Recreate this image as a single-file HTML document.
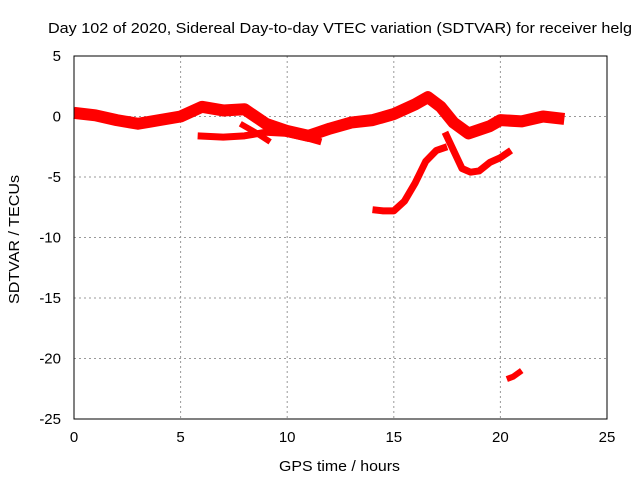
<!DOCTYPE html>
<html><head><meta charset="utf-8"><style>
body{margin:0;background:#fff}
text{font-family:"Liberation Sans",sans-serif;font-size:15px;fill:#000}
</style></head><body>
<svg id="chart" width="640" height="480" xmlns="http://www.w3.org/2000/svg">
<text x="48" y="33" textLength="584" lengthAdjust="spacingAndGlyphs">Day 102 of 2020, Sidereal Day-to-day VTEC variation (SDTVAR) for receiver helg</text>
<g id="grid"></g>
<g id="series"></g>
<rect x="74" y="56" width="533" height="363" fill="none" stroke="#000" stroke-width="1"/>
<g id="ticks"></g>
<text x="279" y="471" textLength="121" lengthAdjust="spacingAndGlyphs">GPS time / hours</text>
<text transform="translate(19,304) rotate(-90)" textLength="129" lengthAdjust="spacingAndGlyphs">SDTVAR / TECUs</text>
</svg>
<script>
const xTicks=[0,5,10,15,20,25];
const yTicks=[5,0,-5,-10,-15,-20,-25];
const mainH=[0,1,2,3,4,5,6,7,8,9,10,11,12,13,14,15,16,16.6,17.2,17.8,18.5,19.5,20,21,22,23];
const mainV=[0.3,0.1,-0.3,-0.6,-0.3,0,0.8,0.5,0.6,-0.6,-1.2,-1.6,-1,-0.5,-0.3,0.2,1,1.6,0.8,-0.5,-1.4,-0.8,-0.3,-0.4,0,-0.2];
const lowH=[5.8,7,8,9,10,11,11.6];
const lowV=[-1.6,-1.7,-1.6,-1.3,-1.4,-1.8,-2.1];
const branchH=[7.8,8.5,9.2];
const branchV=[-0.6,-1.3,-2.1];
const riseH=[14,14.5,15,15.5,16,16.5,17,17.5];
const riseV=[-7.7,-7.8,-7.8,-7,-5.5,-3.7,-2.8,-2.5];
const dipH=[17.4,17.8,18.2,18.6,19,19.5,20,20.5];
const dipV=[-1.3,-2.8,-4.3,-4.6,-4.5,-3.8,-3.4,-2.8];
const tailH=[20.3,20.6,21];
const tailV=[-21.7,-21.5,-21.0];
const X=h=>74+h*533/25, Y=v=>56+(5-v)*363/30;
const NS="http://www.w3.org/2000/svg";
const grid=document.getElementById('grid'),ticks=document.getElementById('ticks'),ser=document.getElementById('series');
function mk(tag,a,p){const e=document.createElementNS(NS,tag);for(const k in a)e.setAttribute(k,a[k]);p.appendChild(e);return e;}
xTicks.forEach(t=>{
  if(t>0&&t<25){const g=mk('line',{x1:X(t),x2:X(t),y1:56,y2:419,stroke:'#999','stroke-dasharray':'2,3'},grid);
  
  }
  const l=mk('text',{x:X(t),y:442,'text-anchor':'middle'},ticks);l.textContent=t;
  
  
});
yTicks.forEach(t=>{
  if(t<5&&t>-25){const g=mk('line',{x1:74,x2:607,y1:Y(t),y2:Y(t),stroke:'#999','stroke-dasharray':'2,3'},grid);
  
  }
  const l=mk('text',{x:61,y:Y(t)+5,'text-anchor':'end'},ticks);l.textContent=t;
  
  
});
function line(H,V,w,name){
  const p=mk('polyline',{points:H.map((h,i)=>X(h)+','+Y(V[i])).join(' '),fill:'none',stroke:'#f00','stroke-width':w,'stroke-linejoin':'round'},ser);
  
  
}
line(mainH,mainV,12,'main-band-series');
line(lowH,lowV,7,'lower-band-series');
line(branchH,branchV,6,'branch-series');
line(riseH,riseV,7,'rise-series');
line(dipH,dipV,7,'dip-series');
line(tailH,tailV,6,'tail-series');
</script>
</body></html>
